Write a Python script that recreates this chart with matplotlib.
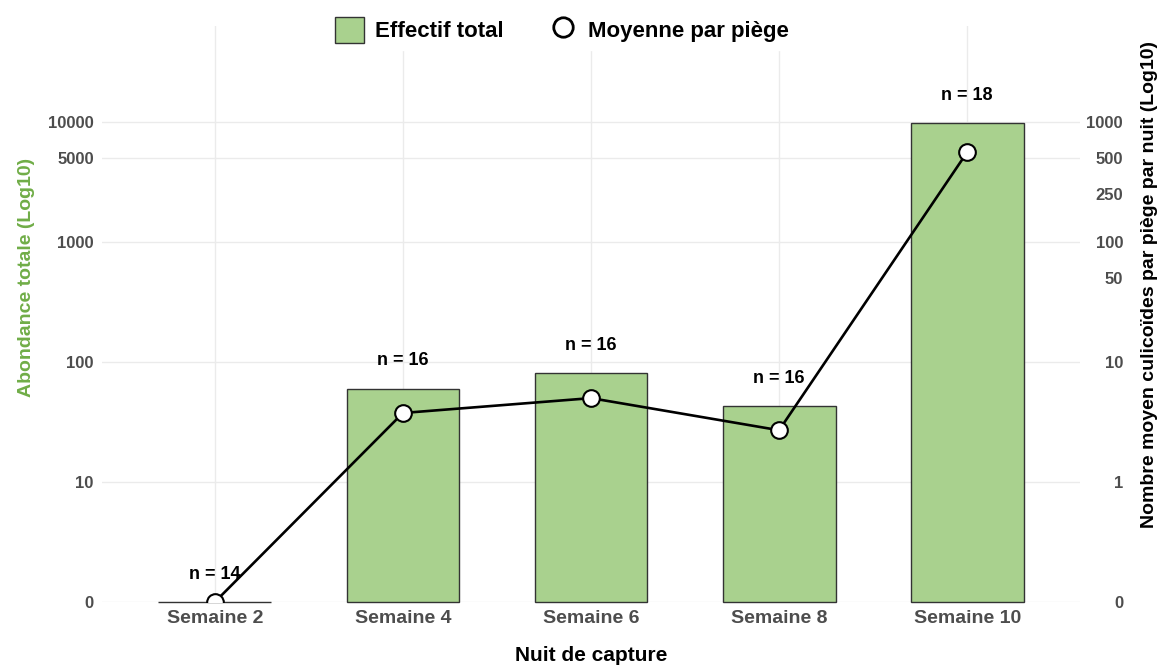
import numpy as np
import matplotlib
matplotlib.use("Agg")
import matplotlib.pyplot as plt
from matplotlib.patches import Patch
from matplotlib.lines import Line2D

plt.rcParams['font.family'] = ['Liberation Sans', 'DejaVu Sans']

categories = ["Semaine 2", "Semaine 4", "Semaine 6", "Semaine 8", "Semaine 10"]
effectif_total = [0, 60, 81, 43, 9800]
moyenne_piege = [0, 3.76, 5.0, 2.7, 560]
n_labels = ["n = 14", "n = 16", "n = 16", "n = 16", "n = 18"]
left_ticks = [0, 10, 100, 1000, 5000, 10000]
right_ticks = [0, 1, 10, 50, 100, 250, 500, 1000]

fig = plt.figure(figsize=(11.66, 6.66), dpi=100)
ax = fig.add_axes([102/1166, 1-602/666, (1080-102)/1166, (602-26)/666])

def fwd(v):
    return np.log10(np.maximum(np.asarray(v, dtype=float), 1.0))

def inv(y):
    return 10.0 ** np.asarray(y, dtype=float)

def fwd2(v):
    return np.log10(np.maximum(10.0 * np.asarray(v, dtype=float), 1.0))

def inv2(y):
    return 10.0 ** np.asarray(y, dtype=float) / 10.0

ax.set_yscale('function', functions=(fwd, inv))
x = np.arange(len(categories))
ax.bar(x, effectif_total, width=0.6, color="#A9D18E", edgecolor="#333333", linewidth=1.0,
       zorder=2, clip_on=False)
ax.set_xlim(-0.6, len(categories) - 0.4)
top = 10 ** 4.8
ax.set_ylim(0, top)
ax.set_yticks(left_ticks)
ax.set_yticklabels([str(t) for t in left_ticks])
ax.set_xticks(x)
ax.set_xticklabels(categories)
ax.grid(True, color="#EBEBEB", linewidth=1.0, zorder=0)
ax.set_axisbelow(True)
for s in ax.spines.values():
    s.set_visible(False)
ax.tick_params(axis='y', length=0, pad=6, labelsize=12, labelcolor="#4D4D4D")
ax.tick_params(axis='x', length=0, pad=6, labelsize=14, labelcolor="#4D4D4D")
for lab in ax.get_yticklabels() + ax.get_xticklabels():
    lab.set_fontweight('bold')
ax.yaxis.set_minor_locator(matplotlib.ticker.NullLocator())

for xi, v, lab in zip(x, effectif_total, n_labels):
    ax.annotate(lab, (xi, v), xytext=(0, 20), textcoords='offset points',
                ha='center', va='center', fontsize=13, fontweight='bold', color='black')

ax.set_ylabel("Abondance totale (Log10)", color="#70AD47", fontsize=14, fontweight='bold')
ax.yaxis.set_label_coords(-0.068, 0.564)
ax.set_xlabel("Nuit de capture", color="black", fontsize=15, fontweight='bold')
ax.xaxis.set_label_coords(0.5, -0.077)

ax2 = ax.twinx()
ax2.set_yscale('function', functions=(fwd2, inv2))
ax2.set_ylim(0, top / 10.0)
ax2.plot(x, moyenne_piege, color='black', linewidth=1.9, marker='o', markersize=12,
         markerfacecolor='white', markeredgecolor='black', markeredgewidth=1.5, zorder=3)
ax2.set_yticks(right_ticks)
ax2.set_yticklabels([str(t) for t in right_ticks])
ax2.yaxis.set_minor_locator(matplotlib.ticker.NullLocator())
ax2.tick_params(axis='y', length=0, pad=31, labelsize=12, labelcolor="#4D4D4D")
for lab in ax2.get_yticklabels():
    lab.set_fontweight('bold')
    lab.set_ha('right')
for s in ax2.spines.values():
    s.set_visible(False)
ax2.set_ylabel("Nombre moyen culicoïdes par piège par nuit (Log10)", color='black',
               fontsize=14, fontweight='bold')
ax2.yaxis.set_label_coords(1.062, 0.552)

handles = [Patch(facecolor="#A9D18E", edgecolor="#333333", linewidth=1.0),
           Line2D([], [], linestyle='none', marker='o', markersize=14, markerfacecolor='white',
                  markeredgecolor='black', markeredgewidth=2)]
leg = fig.legend(handles, ["Effectif total", "Moyenne par piège"], loc='center',
                 bbox_to_anchor=(562/1166, 1-30/666), ncol=2, frameon=True, fancybox=False,
                 edgecolor='white', facecolor='white', framealpha=1.0,
                 prop={'weight': 'bold', 'size': 16}, handlelength=1.3, handleheight=1.4,
                 columnspacing=2.0, handletextpad=0.5, borderpad=0.3)

fig.savefig("out.png", dpi=100)
